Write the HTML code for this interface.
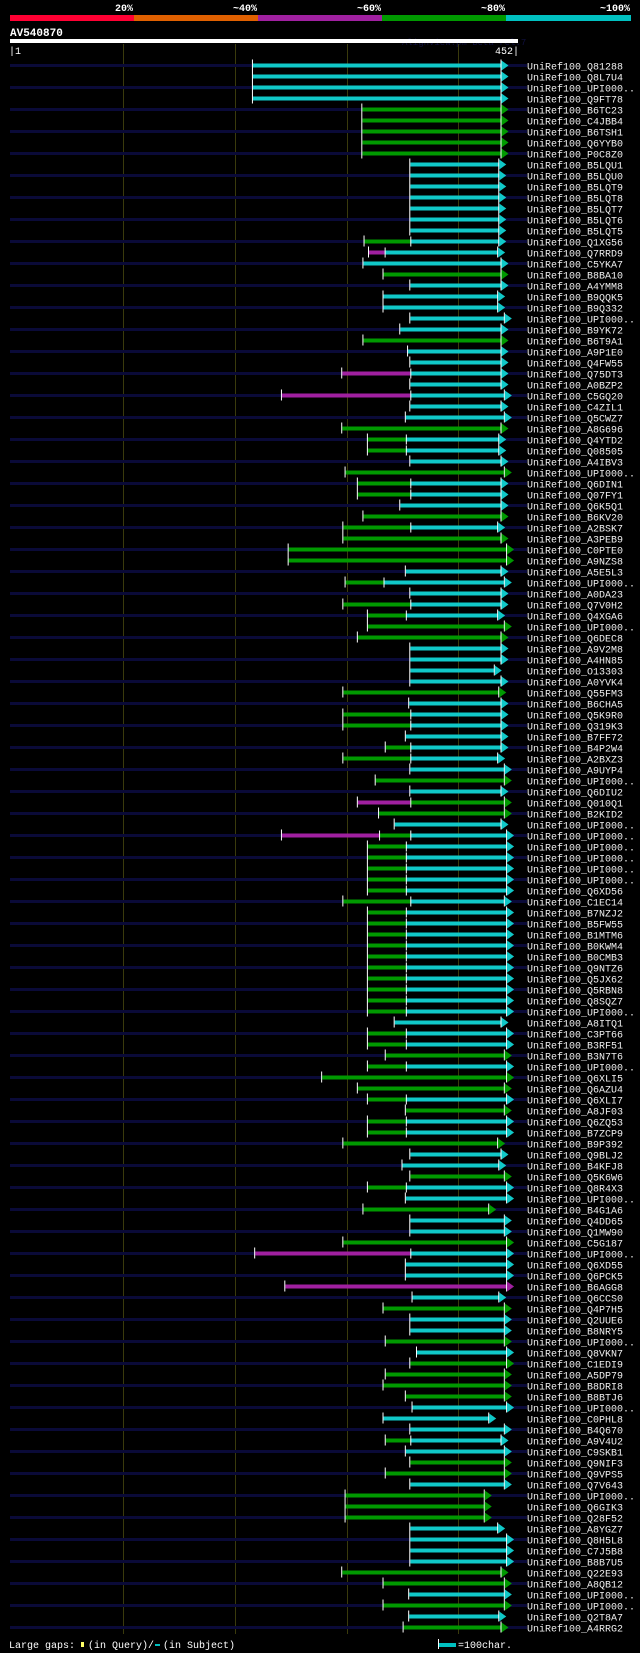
<!DOCTYPE html>
<html><head><meta charset="utf-8"><style>
html,body{margin:0;padding:0;background:#000;}
svg{display:block;}
text{font-family:"Liberation Mono","DejaVu Sans Mono",monospace;}
</style></head><body>
<svg id="chart" width="640" height="1653" viewBox="0 0 640 1653" xmlns="http://www.w3.org/2000/svg">
<rect x="0" y="0" width="640" height="1653" fill="#000"/>
<g>
<rect x="10" y="15" width="124" height="6" fill="#ff0033"/>
<rect x="134" y="15" width="124" height="6" fill="#e06000"/>
<rect x="258" y="15" width="124" height="6" fill="#a020a0"/>
<rect x="382" y="15" width="124" height="6" fill="#009900"/>
<rect x="506" y="15" width="125" height="6" fill="#00c0c0"/>
<text x="133" y="11" fill="#fff" font-size="10" font-weight="bold" text-anchor="end">20%</text>
<text x="257" y="11" fill="#fff" font-size="10" font-weight="bold" text-anchor="end">~40%</text>
<text x="381" y="11" fill="#fff" font-size="10" font-weight="bold" text-anchor="end">~60%</text>
<text x="505" y="11" fill="#fff" font-size="10" font-weight="bold" text-anchor="end">~80%</text>
<text x="630" y="11" fill="#fff" font-size="10" font-weight="bold" text-anchor="end">~100%</text>
</g>
<text x="10" y="36" fill="#fff" font-size="11" font-weight="bold">AV540870</text>
<text x="402" y="45" fill="#101040" font-size="9">AlignView.pm Beta rel.7</text>
<rect x="10" y="39" width="508" height="4" fill="#fff"/>
<text x="9" y="54" fill="#fff" font-size="10">|1</text>
<text x="519" y="54" fill="#fff" font-size="10" text-anchor="end">452|</text>
<g id="grid"></g>
<g id="rows"></g>
<g>
<text x="9" y="1648" fill="#fff" font-size="10">Large gaps:</text>
<rect x="81" y="1642" width="3" height="5" fill="#ffff66"/>
<text x="88" y="1648" fill="#fff" font-size="10">(in Query)/</text>
<rect x="155" y="1644" width="5" height="2" fill="#00c0c0"/>
<text x="163" y="1648" fill="#fff" font-size="10">(in Subject)</text>
<rect x="438" y="1639" width="1" height="10" fill="#fff"/>
<rect x="439" y="1643" width="17" height="4" fill="#00c0c0"/>
<text x="458" y="1648" fill="#fff" font-size="10">=100char.</text>
</g>
</svg>
<script>
const gridTicks = [100, 200, 300, 400];
const names = ["Q81288","Q8L7U4","UPI000..","Q9FT78","B6TC23","C4JBB4","B6TSH1","Q6YYB0","P0C8Z0","B5LQU1",
"B5LQU0","B5LQT9","B5LQT8","B5LQT7","B5LQT6","B5LQT5","Q1XG56","Q7RRD9","C5YKA7","B8BA10",
"A4YMM8","B9QQK5","B9Q332","UPI000..","B9YK72","B6T9A1","A9P1E0","Q4FW55","Q75DT3","A0BZP2",
"C5GQ20","C4ZIL1","Q5CWZ7","A8G696","Q4YTD2","Q08505","A4IBV3","UPI000..","Q6DIN1","Q07FY1",
"Q6K5Q1","B6KV20","A2BSK7","A3PEB9","C0PTE0","A9NZS8","A5E5L3","UPI000..","A0DA23","Q7V0H2",
"Q4XGA6","UPI000..","Q6DEC8","A9V2M8","A4HN85","O13303","A0YVK4","Q55FM3","B6CHA5","Q5K9R0",
"Q319K3","B7FF72","B4P2W4","A2BXZ3","A9UYP4","UPI000..","Q6DIU2","Q010Q1","B2KID2","UPI000..",
"UPI000..","UPI000..","UPI000..","UPI000..","UPI000..","Q6XD56","C1EC14","B7NZJ2","B5FW55","B1MTM6",
"B0KWM4","B0CMB3","Q9NTZ6","Q5JX62","Q5RBN8","Q8SQZ7","UPI000..","A8ITQ1","C3PT66","B3RF51",
"B3N7T6","UPI000..","Q6XLI5","Q6AZU4","Q6XLI7","A8JF03","Q6ZQ53","B7ZCP9","B9P392","Q9BLJ2",
"B4KFJ8","Q5K6W6","Q8R4X3","UPI000..","B4G1A6","Q4DD65","Q1MW90","C5G187","UPI000..","Q6XD55",
"Q6PCK5","B6AGG8","Q6CCS0","Q4P7H5","Q2UUE6","B8NRY5","UPI000..","Q8VKN7","C1EDI9","A5DP79",
"B8DRI8","B8BTJ6","UPI000..","C0PHL8","B4Q670","A9V4U2","C9SKB1","Q9NIF3","Q9VPS5","Q7V643",
"UPI000..","Q6GIK3","Q28F52","A8YGZ7","Q8H5L8","C7J5B8","B8B7U5","Q22E93","A8QB12","UPI000..",
"UPI000..","Q2T8A7","A4RRG2"];
const starts = [216,216,216,216,314,314,314,314,314,357,
357,357,357,357,357,357,316,320,315,333,
357,333,333,357,348,315,355,357,296,357,
242,357,353,296,319,319,357,299,310,310,
348,315,297,297,248,248,353,299,357,297,
319,319,310,357,357,357,357,297,356,297,
297,353,335,297,357,326,357,310,329,343,
242,319,319,319,319,319,297,319,319,319,
319,319,319,319,319,319,319,343,319,319,
335,319,278,310,319,353,319,319,297,357,
350,357,319,353,315,357,357,297,218,353,
353,245,359,333,357,357,335,363,357,335,
333,353,359,333,357,335,353,357,335,357,
299,299,299,357,357,357,357,296,333,356,
333,356,351];
const ends = [445,445,445,445,445,445,445,445,445,443,
443,443,443,443,443,443,443,442,445,445,
445,442,442,448,445,445,445,445,445,445,
448,445,448,445,443,443,445,448,445,445,
445,445,442,445,450,450,445,448,445,445,
442,448,445,445,445,439,445,443,445,445,
445,445,445,442,448,448,445,448,448,445,
450,450,450,450,450,450,448,450,450,450,
450,450,450,450,450,450,450,445,450,450,
448,450,450,448,450,448,450,450,442,445,
443,448,450,450,434,448,448,450,450,450,
450,450,443,448,448,448,448,450,450,448,
448,448,450,434,448,445,448,448,448,448,
430,430,430,442,450,450,450,445,448,448,
448,443,445];
const segColors = ["c","c","c","c","g","g","g","g","g","c",
"c","c","c","c","c","c","gc","mc","c","g",
"c","c","c","c","c","g","c","c","mc","c",
"mc","c","c","g","gc","gc","c","g","gc","gc",
"c","g","gc","g","g","g","c","gc","c","gc",
"gc","g","g","c","c","c","c","g","c","gc",
"gc","c","gc","gc","c","g","c","mg","g","c",
"mgc","gc","gc","gc","gc","gc","gc","gc","gc","gc",
"gc","gc","gc","gc","gc","gc","gc","c","gc","gc",
"g","gc","g","g","gc","g","gc","gc","g","c",
"c","g","gc","c","g","c","c","g","mc","c",
"c","m","c","g","c","c","g","c","g","g",
"g","g","c","c","c","gc","c","g","g","c",
"g","g","g","c","c","c","c","g","g","c",
"g","c","g"];
const segBreaks = [[],[],[],[],[],[],[],[],[],[],
[],[],[],[],[],[],[357],[334],[],[],
[],[],[],[],[],[],[],[],[357],[],
[357],[],[],[],[353],[353],[],[],[357],[357],
[],[],[357],[],[],[],[],[333],[],[357],
[353],[],[],[],[],[],[],[],[],[357],
[357],[],[357],[357],[],[],[],[357],[],[],
[329,357],[353],[353],[353],[353],[353],[357],[353],[353],[353],
[353],[353],[353],[353],[353],[353],[353],[],[353],[353],
[],[353],[],[],[353],[],[353],[353],[],[],
[],[],[353],[],[],[],[],[],[357],[],
[],[],[],[],[],[],[],[],[],[],
[],[],[],[],[],[357],[],[],[],[],
[],[],[],[],[],[],[],[],[],[],
[],[],[]];

const NS = "http://www.w3.org/2000/svg";
const COL = {c:"#10c8c8", g:"#009900", m:"#a020a0"};
function xScale(p){ return 13 + (p - 1) * 1.116; }
function yRow(i){ return 65.5 + i * 11; }
function mk(tag, attrs, parent){
  const e = document.createElementNS(NS, tag);
  for (const k in attrs) e.setAttribute(k, attrs[k]);
  parent.appendChild(e);
  return e;
}
const grid = document.getElementById('grid');
gridTicks.forEach(function(t){
  const l = mk('rect', {x: Math.round(xScale(t)), y: 44, width: 1, height: 1590, fill: '#3a3a0c'}, grid);
  
  
});
const rowsG = document.getElementById('rows');
names.forEach(function(nm, i){
  const y = yRow(i);
  const g = mk('g', {}, rowsG);
  
  
  if (i % 2 === 0) {
    const bg = mk('rect', {x: 10, y: y - 1.5, width: 517, height: 3, fill: '#0a0a38'}, g);
    
    
  }
  const cols = segColors[i];
  const br = segBreaks[i];
  const tip = xScale(ends[i]);
  const barEnd = tip - 6;
  let s = xScale(starts[i]);
  for (let k = 0; k < cols.length; k++) {
    const e = k < br.length ? xScale(br[k]) : barEnd;
    const r = mk('rect', {x: s, y: y - 2, width: Math.max(0, e - s), height: 4, fill: COL[cols[k]]}, g);
    
    
    if (k > 0) {
      const bt = mk('rect', {x: s, y: y - 5, width: 1, height: 10, fill: '#fff'}, g);
      
      
    }
    s = e;
  }
  const st = mk('rect', {x: xScale(starts[i]) - 1, y: y - 6, width: 1, height: 11, fill: '#fff'}, g);
  
  
  const et = mk('rect', {x: tip - 8, y: y - 6, width: 1, height: 11, fill: '#fff'}, g);
  
  
  const ar = mk('polygon', {points: (tip - 7) + ',' + (y - 5) + ' ' + tip + ',' + y + ' ' + (tip - 7) + ',' + (y + 5), fill: COL[cols[cols.length - 1]]}, g);
  
  
  const tx = mk('text', {x: 527, y: y + 4, fill: '#f0f0f0', 'font-size': 10}, g);
  tx.textContent = 'UniRef100_' + nm;
  
  
});
</script>
</body></html>
